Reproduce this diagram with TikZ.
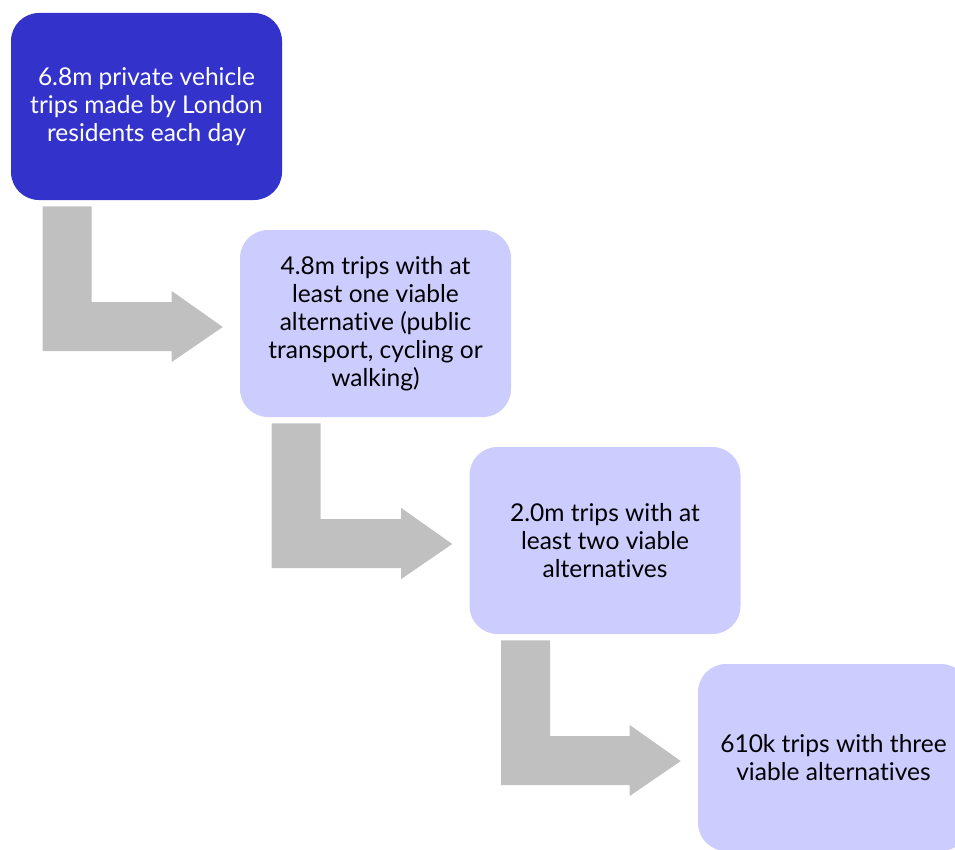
\documentclass[tikz,border=0pt]{standalone}
\usepackage{fontspec}
\setmainfont{Lato}[Ligatures={NoCommon,NoContextual}]
\usetikzlibrary{calc}
\definecolor{darkbox}{RGB}{51,51,204}
\definecolor{lightbox}{RGB}{204,204,255}
\definecolor{arrowgray}{RGB}{192,192,192}
\tikzset{
  stagebox/.style={rectangle, rounded corners=21pt, minimum width=203.25pt, minimum height=140.25pt,
    align=center, inner sep=0pt, font=\fontsize{18.4pt}{21pt}\selectfont},
  firstbox/.style={stagebox, fill=darkbox, text=white},
  laterbox/.style={stagebox, fill=lightbox, text=black},
  bentarrow/.style={fill=arrowgray}
}
\begin{document}
\begin{tikzpicture}[x=0.75pt,y=-0.75pt]
\useasboundingbox (0,0) rectangle (955,849);
\clip (0,0) rectangle (955,849);
\node[firstbox] (s1) at (146.5,106.5) {6.8m private vehicle\\trips made by London\\residents each day};
\node[laterbox] (s2) at (375.5,323.5) {4.8m trips with at\\least one viable\\alternative (public\\transport, cycling or\\walking)};
\node[laterbox] (s3) at (605,540.5) {2.0m trips with at\\least two viable\\alternatives};
\node[laterbox] (s4) at (833.5,757.5) {610k trips with three\\viable alternatives};
\foreach \a/\b in {s1/s2,s2/s3,s3/s4}{
  \coordinate (vL) at ($(\a.south west)+(32,6)$);
  \coordinate (vR) at ($(\a.south west)+(81,6)$);
  \coordinate (hT) at ($(\b.west)+(0,-21.5)$);
  \coordinate (hB) at ($(\b.west)+(0,27.5)$);
  \coordinate (hHT) at ($(\b.west)+(-68,-32.5)$);
  \coordinate (hHB) at ($(\b.west)+(-68,38.5)$);
  \coordinate (tip) at ($(\b.west)+(-17,3.5)$);
  \fill[bentarrow] (vL) -- (vR) -- (vR |- hT) -- (hHT |- hT) -- (hHT) -- (tip) -- (hHB) -- (hHB |- hB) -- (vL |- hB) -- cycle;
}
\end{tikzpicture}
\end{document}
